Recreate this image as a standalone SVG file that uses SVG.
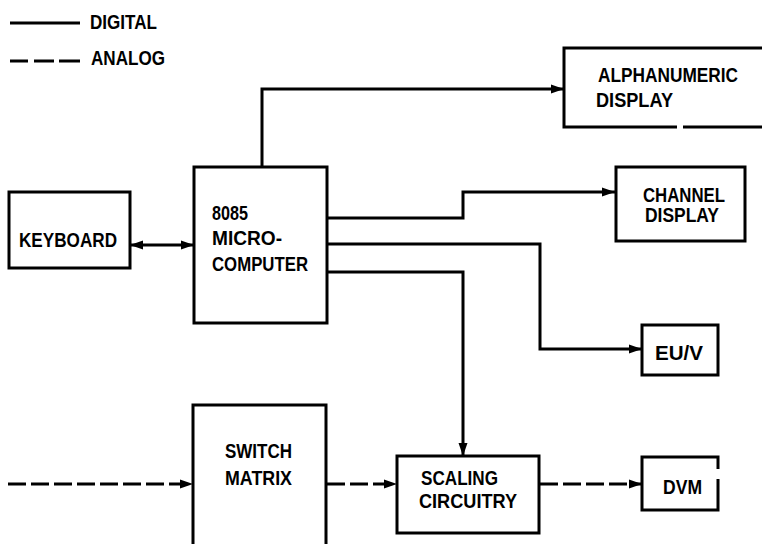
<svg xmlns="http://www.w3.org/2000/svg" width="762" height="544" viewBox="0 0 762 544">
<style>
.box{fill:none;stroke:#000;stroke-width:3;stroke-linejoin:miter}
.ln{fill:none;stroke:#000;stroke-width:3}
.dash{fill:none;stroke:#000;stroke-width:3;stroke-dasharray:18 5}
text{font-family:"Liberation Sans Narrow","Liberation Sans",Arial,sans-serif;font-size:20px;font-weight:bold;fill:#000}
.lg{font-size:21px}
</style>
<defs>
<marker id="ah" markerUnits="userSpaceOnUse" markerWidth="13" markerHeight="10" refX="13" refY="5" orient="auto-start-reverse">
<path d="M0,0.5 L13,5 L0,9.5 z" fill="#000"/>
</marker>
</defs>
<rect width="762" height="544" fill="#fff"/>
<g id="legend">
<line class="ln" x1="10" y1="23" x2="80" y2="23"/>
<text class="lg" x="90" y="29" textLength="67" lengthAdjust="spacingAndGlyphs">DIGITAL</text>
<line class="dash" x1="10" y1="61" x2="80" y2="61" style="stroke-dasharray:18 6 20 5 21 10"/>
<text class="lg" x="91" y="65" textLength="74" lengthAdjust="spacingAndGlyphs">ANALOG</text>
</g>
<g id="connectors">
<line class="ln" x1="130" y1="245" x2="194" y2="245" marker-start="url(#ah)" marker-end="url(#ah)"/>
<polyline class="ln" points="262,166 262,89 564,89" marker-end="url(#ah)"/>
<polyline class="ln" points="327,218 463,218 463,192 615,192" marker-end="url(#ah)"/>
<polyline class="ln" points="327,244 540,244 540,349 642,349" marker-end="url(#ah)"/>
<polyline class="ln" points="327,272 463,272 463,456" marker-end="url(#ah)"/>
<line class="dash" x1="8" y1="484" x2="193" y2="484" marker-end="url(#ah)"/>
<line class="dash" x1="327" y1="484" x2="397" y2="484" marker-end="url(#ah)"/>
<line class="dash" x1="540" y1="484" x2="642" y2="484" marker-end="url(#ah)"/>
</g>
<g id="keyboard">
<rect class="box" x="9" y="192" width="121" height="76"/>
<text x="19" y="247" textLength="98" lengthAdjust="spacingAndGlyphs">KEYBOARD</text>
</g>
<g id="microcomputer">
<rect class="box" x="194" y="167" width="133" height="156"/>
<text x="212" y="220" textLength="36" lengthAdjust="spacingAndGlyphs">8085</text>
<text x="212" y="245" textLength="70" lengthAdjust="spacingAndGlyphs">MICRO-</text>
<text x="212" y="271" textLength="96" lengthAdjust="spacingAndGlyphs">COMPUTER</text>
</g>
<g id="alphanumeric">
<path class="box" d="M762,48 H564 V127 H677 M683,127 H762"/>
<text x="598" y="82" textLength="140" lengthAdjust="spacingAndGlyphs">ALPHANUMERIC</text>
<text x="596" y="107" textLength="77" lengthAdjust="spacingAndGlyphs">DISPLAY</text>
</g>
<g id="channel">
<rect class="box" x="616" y="167" width="129" height="74"/>
<text x="643" y="202" textLength="82" lengthAdjust="spacingAndGlyphs">CHANNEL</text>
<text x="645" y="222" textLength="74" lengthAdjust="spacingAndGlyphs">DISPLAY</text>
</g>
<g id="euv">
<rect class="box" x="642" y="325" width="76" height="50"/>
<text x="655" y="360" textLength="48" lengthAdjust="spacingAndGlyphs">EU/V</text>
</g>
<g id="switch">
<path class="box" d="M193,546 V405 H326 V546"/>
<text x="225" y="458" textLength="67" lengthAdjust="spacingAndGlyphs">SWITCH</text>
<text x="225" y="485" textLength="67" lengthAdjust="spacingAndGlyphs">MATRIX</text>
</g>
<g id="scaling">
<rect class="box" x="397" y="456" width="142" height="77"/>
<text x="421" y="485" textLength="77" lengthAdjust="spacingAndGlyphs">SCALING</text>
<text x="419" y="508" textLength="98" lengthAdjust="spacingAndGlyphs">CIRCUITRY</text>
</g>
<g id="dvm">
<path class="box" d="M718,469 V457 H642 V510 H718 V479"/>
<text x="663" y="494" textLength="39" lengthAdjust="spacingAndGlyphs">DVM</text>
</g>
</svg>
